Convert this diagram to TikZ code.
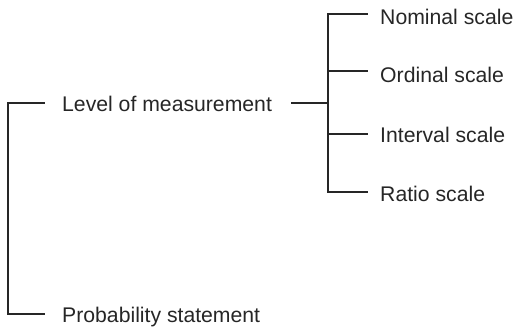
\documentclass[tikz,border=0pt]{standalone}
\usepackage{fontspec}
\setmainfont{Liberation Sans}
\begin{document}
\begin{tikzpicture}[x=1pt,y=-1pt,
  lbl/.style={anchor=base west,inner sep=0pt,font=\fontsize{21.2}{25}\selectfont,text=black!85},
  link/.style={draw=black!85,line width=1.9pt,line cap=rect}]
\useasboundingbox (0,0) rectangle (514,330);
% labels, baseline about 8pt below the line they hang from
\node[lbl] (lvl)  at (62,111)  {Level of measurement};
\node[lbl] (prob) at (62,322)  {Probability statement};
\node[lbl] (nom)  at (380,24)  {Nominal scale};
\node[lbl] (ord)  at (380,82.5){Ordinal scale};
\node[lbl] (int)  at (380,142) {Interval scale};
\node[lbl] (rat)  at (380,201) {Ratio scale};
% left bracket
\coordinate (lt) at (44,103);
\coordinate (lb) at (44,314);
\coordinate (ls) at (8,103);
\draw[link] (lt) -- (ls) |- (lb);
% right bracket
\coordinate (ra) at (292,103);
\coordinate (rj) at (328,103);
\coordinate (e1) at (367,14);
\coordinate (e2) at (367,71);
\coordinate (e3) at (367,134);
\coordinate (e4) at (367,192);
\draw[link] (ra) -- (rj);
\draw[link] (e1) -| (rj |- e4) -- (e4);
\draw[link] (rj |- e2) -- (e2);
\draw[link] (rj |- e3) -- (e3);
\end{tikzpicture}
\end{document}
